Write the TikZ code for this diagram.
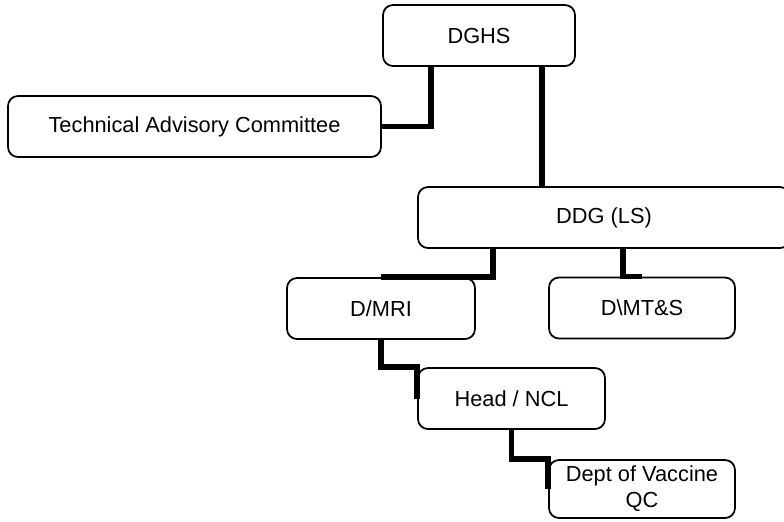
\documentclass[tikz,border=0pt]{standalone}
\usepackage{fontspec}
\setmainfont{Liberation Sans}
\begin{document}
\begin{tikzpicture}[x=0.2mm, y=-0.2mm, font=\fontsize{12.4}{14.8}\selectfont, line join=miter]
	\tikzset{
		unit/.style={draw, line width=1pt, rounded corners=2mm, inner sep=0pt, minimum height=12.2mm, align=center},
		link/.style={line width=3pt}
	}
	\useasboundingbox (0,0) rectangle (784,521);
	\clip (0,0) rectangle (784,521);
	% boxes
	\node[unit, minimum width=38.4mm] (dghs) at (479,35.5) {DGHS};
	\node[unit, minimum width=74.6mm] (tac) at (194.5,126.5) {Technical Advisory Committee};
	\node[unit, minimum width=74.4mm] (ddg) at (604,217.5) {DDG (LS)};
	\node[unit, minimum width=37.6mm] (mri) at (381,308.5) {D/MRI};
	\node[unit, minimum width=37.2mm] (mts) at (642,308) {D\textbackslash MT\&S};
	\node[unit, minimum width=37.4mm] (ncl) at (511.5,398.5) {Head / NCL};
	\node[unit, minimum width=37.2mm, minimum height=11.6mm] (qc) at (642,489) {Dept of Vaccine\\QC};
	% where the lines leave the boxes
	\coordinate (p1) at (431,0);
	\coordinate (p2) at (542,0);
	\coordinate (p3) at (493,0);
	\coordinate (p4) at (623,0);
	% lines
	\draw[link] (dghs.south -| p1) |- (tac.east);
	\draw[link] (dghs.south -| p2) -- (ddg.north -| p2);
	\draw[link] (ddg.south -| p3) |- (mri.north);
	\draw[link] (ddg.south -| p4) |- (mts.north);
	\draw[link] (mri.south) |- (ncl.north west) -- (ncl.west);
	\draw[link] (ncl.south) |- (qc.north west) -- (qc.west);
\end{tikzpicture}
\end{document}
